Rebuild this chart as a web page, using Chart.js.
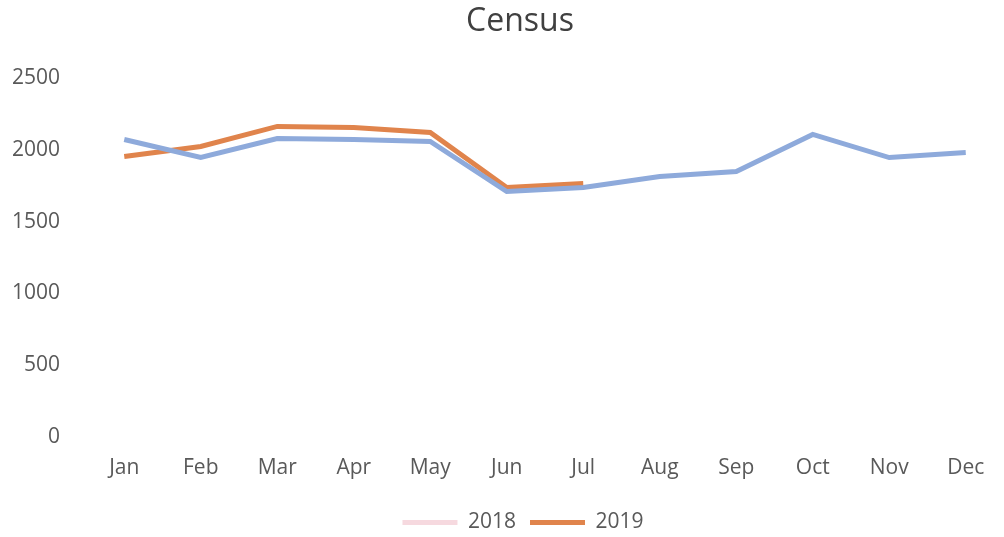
<!DOCTYPE html>
<html>
<head>
<meta charset="utf-8">
<script src="https://cdn.jsdelivr.net/npm/chart.js@4"></script>
<style>
  html, body { margin: 0; padding: 0; background: #fff; }
  #wrap { width: 1004px; height: 537px; }
</style>
</head>
<body>
<div id="wrap"><canvas id="census"></canvas></div>
<script>
const months = ["Jan", "Feb", "Mar", "Apr", "May", "Jun", "Jul", "Aug", "Sep", "Oct", "Nov", "Dec"];
const census2018 = [2074, 1948, 2081, 2074, 2060, 1711, 1739, 1816, 1851, 2109, 1948, 1983];
const census2019 = [1955, 2025, 2165, 2158, 2123, 1739, 1767];
const yTicks = [0, 500, 1000, 1500, 2000, 2500];

const textColor = "#595959";
const font = "'Open Sans', sans-serif";

// nudge the title and legend boxes a little right of the default centre
const shiftBoxes = {
  id: "shiftBoxes",
  afterLayout(chart) {
    const t = chart.titleBlock;
    if (t) { t.left += 18; t.right += 18; }
    const l = chart.legend;
    if (l) { l.left += 21; l.right += 21; l.top += 6; l.bottom += 6; }
  },
};

new Chart(document.getElementById("census"), {
  type: "line",
  data: {
    labels: months,
    datasets: [
      {
        label: "2018",
        data: census2018,
        borderColor: "#8eaadb",
        legendColor: "#f6d9df",
        borderWidth: 5,
        pointRadius: 0,
        tension: 0,
      },
      {
        label: "2019",
        data: census2019,
        borderColor: "#e0844c",
        legendColor: "#e0844c",
        borderWidth: 5,
        pointRadius: 0,
        tension: 0,
      },
    ],
  },
  options: {
    responsive: true,
    maintainAspectRatio: false,
    animation: false,
    layout: { padding: { left: 0, right: 0, top: 0, bottom: 0 } },
    scales: {
      x: {
        offset: true,
        grid: { display: false },
        border: { display: false },
        ticks: { color: textColor, font: { family: font, size: 21 }, padding: 11 },
      },
      y: {
        min: 0,
        max: 2500,
        afterBuildTicks: (axis) => { axis.ticks = yTicks.map((v) => ({ value: v })); },
        afterFit: (axis) => { axis.width = 86; },
        grid: { display: false },
        border: { display: false },
        ticks: {
          color: textColor,
          font: { family: font, size: 21 },
          padding: 18,
          callback: (v) => String(v),
        },
      },
    },
    plugins: {
      title: {
        display: true,
        text: "Census",
        color: "#404040",
        font: { family: font, size: 32, weight: "normal" },
        padding: { top: 3, bottom: 37 },
      },
      legend: {
        position: "bottom",
        labels: {
          color: textColor,
          font: { family: font, size: 21 },
          usePointStyle: true,
          pointStyle: "line",
          boxWidth: 55,
          pointStyleWidth: 55,
          padding: 14,
          generateLabels: (chart) => {
            const items = Chart.defaults.plugins.legend.labels.generateLabels(chart);
            items.forEach((item) => {
              const ds = chart.data.datasets[item.datasetIndex];
              item.strokeStyle = ds.legendColor;
              item.fillStyle = ds.legendColor;
              item.lineWidth = 5;
            });
            return items;
          },
        },
      },
      tooltip: { enabled: false },
    },
  },
  plugins: [shiftBoxes],
});
</script>
</body>
</html>
